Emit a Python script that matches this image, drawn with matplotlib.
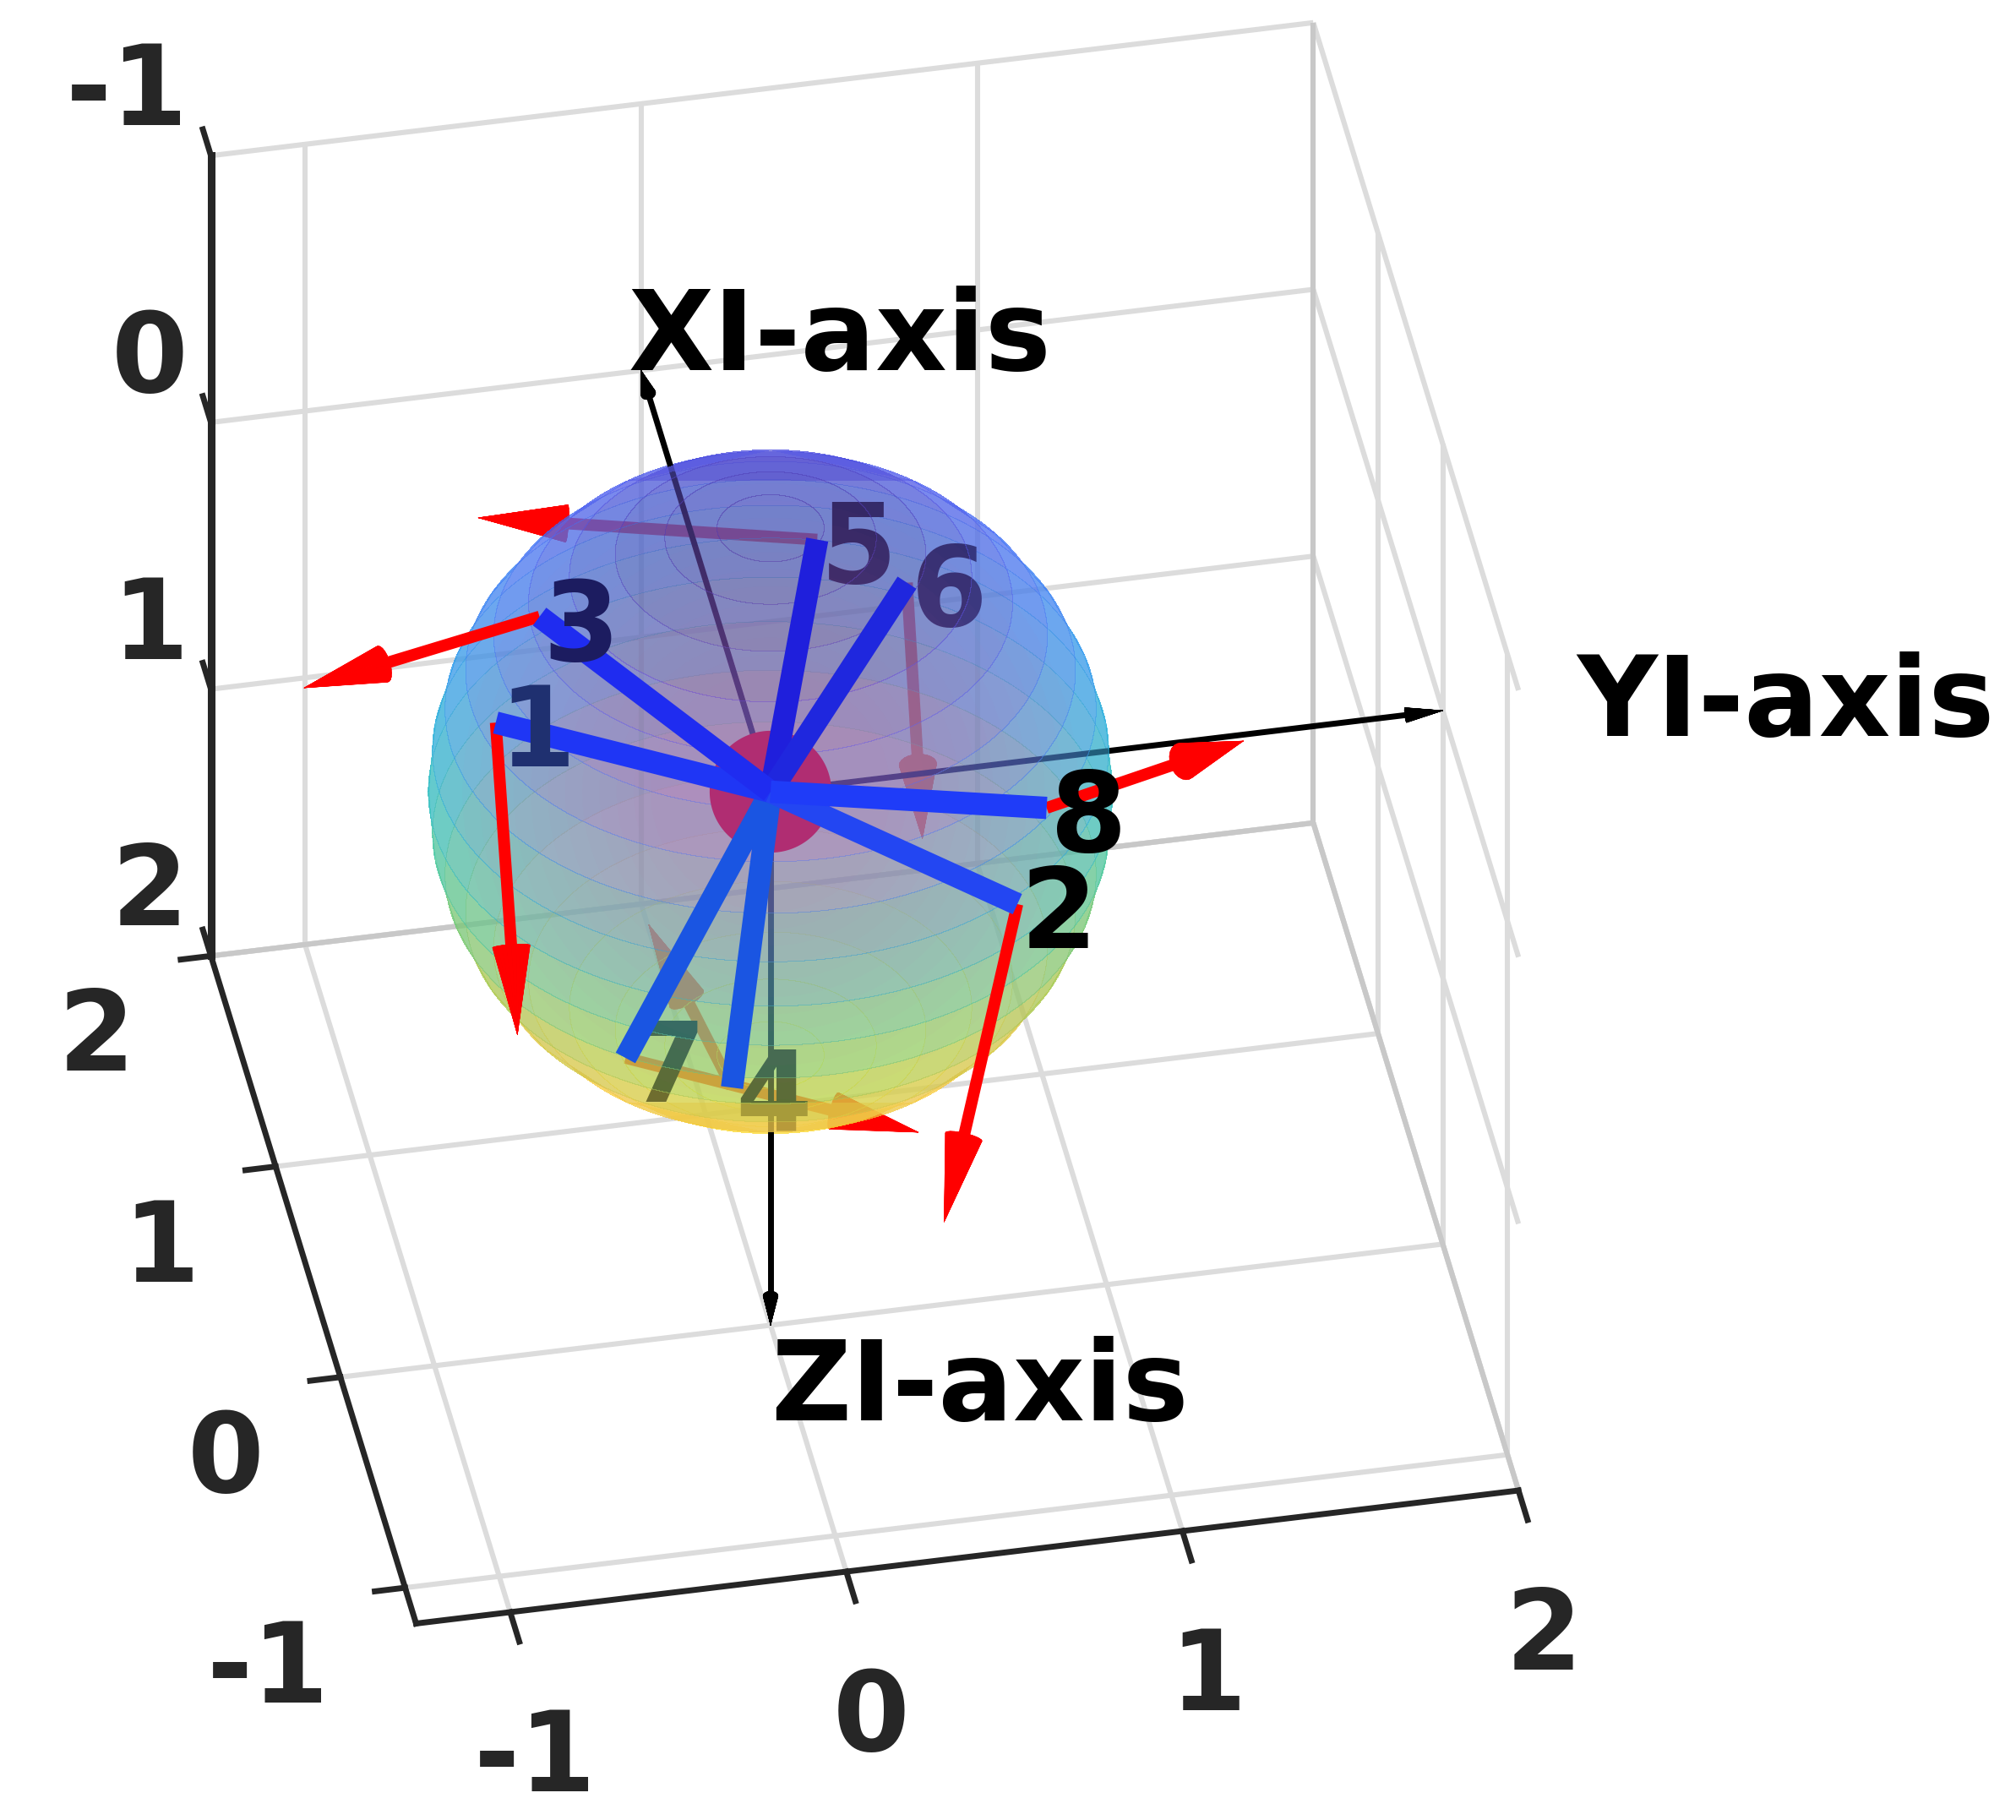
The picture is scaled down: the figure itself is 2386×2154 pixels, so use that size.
import numpy as np
import matplotlib
matplotlib.use("Agg")
import matplotlib.pyplot as plt
from matplotlib.colors import LinearSegmentedColormap
from mpl_toolkits.mplot3d import proj3d
from mpl_toolkits.mplot3d.art3d import Poly3DCollection

W, H = 2386, 2154
x_ticks = [-1, 0, 1, 2]
y_ticks = [-1, 0, 1, 2]
z_ticks = [-1, 0, 1, 2]
x_range = (2, -1.17)
y_range = (-1.28, 2)
z_range = (2, -1)

labels = ["1", "2", "3", "4", "5", "6", "7", "8"]
rod_x = [0.009, -0.651, 0.215, -0.36, 0.811, 0.723, -0.324, -0.449]
rod_y = [-0.816, 0.609, -0.646, -0.184, 0.295, 0.545, -0.494, 0.735]
rod_z = [-0.376, 0.0, -0.585, 0.797, -0.26, -0.13, 0.667, -0.182]
vec_x = [-0.652, -0.686, -0.228, 0.493, 0.303, -0.088, -0.143, -0.446]
vec_y = [-0.061, -0.35, -0.744, -0.153, -0.95, 0.029, 0.843, 0.499]
vec_z = [0.646, 0.596, -0.026, -0.245, 0.013, 0.894, 0.294, -0.527]
behind = [False, False, False, True, True, True, True, False]
label_over = [True, True, True, False, False, False, False, True]
label_col = ["#1f3070", "black", "#1c1c60", "black", "black", "black", "black", "black"]
rod_col = ["#1f36f5", "#2346f2", "#1f2cf0", "#1a55e2", "#1f1fdc", "#1f27de", "#1a55e2", "#1f3cf8"]

axis_names = ["XI-axis", "YI-axis", "ZI-axis"]
axis_tips = [(2, 0, 0), (0, 2, 0), (0, 0, 2)]
axis_text = [(2.2, 0, 0.04), (0, 2.4, 0.04), (0, 0, 2.24)]

parula = [(0.2422, 0.1504, 0.6603), (0.2810, 0.3228, 0.9579), (0.1786, 0.5289, 0.9682),
          (0.0689, 0.6948, 0.8394), (0.2161, 0.7843, 0.5923), (0.6720, 0.7793, 0.2227),
          (0.9970, 0.7659, 0.2199), (0.9769, 0.9839, 0.0805)]
sphere_radius = 1.0
hub_radius = 0.178
halo_radii = [0.9, 0.85, 0.8, 0.75, 0.7, 0.65, 0.6, 0.55, 0.5, 0.45, 0.4, 0.35]

ELEV, AZIM = 38.8, -10.9
INK = "#262626"
GRID = "#dcdcdc"
EDGE = "#c8c8c8"
plt.rcParams.update({"font.family": "DejaVu Sans", "font.weight": "bold"})

fig = plt.figure(figsize=(W / 100, H / 100), dpi=100, facecolor="white")
ax = fig.add_axes([-0.2, -0.2, 1.4, 1.4], projection="3d", computed_zorder=False,
                  proj_type="ortho", facecolor="none")
ax.view_init(elev=ELEV, azim=AZIM)
ax.set_axis_off()
cmap = LinearSegmentedColormap.from_list("parula", parula)

el, az = np.radians(ELEV), np.radians(AZIM)
# towards the viewer, in data coordinates (x and z run reversed)
toward = np.array([-np.cos(el) * np.cos(az), np.cos(el) * np.sin(az), -np.sin(el)])


def ring(r, th, ph):
    return np.column_stack((r * np.sin(th) * np.cos(ph), r * np.sin(th) * np.sin(ph),
                            np.full_like(ph, r * np.cos(th))))


def bands(r, side, n_lat=20):
    """One polygon per latitude band of the hemisphere facing side*toward."""
    th = np.linspace(0, np.pi, n_lat + 1)
    centre = np.arctan2(side * toward[1], side * toward[0])
    ph = np.linspace(centre - np.pi, centre + np.pi, 721)
    polys, cols = [], []
    for i in range(n_lat):
        a = ring(r, th[i], ph)
        b = ring(r, th[i + 1], ph)
        a = a[(a @ toward) * side > 0]
        b = b[(b @ toward) * side > 0]
        if len(a) + len(b) < 3:
            continue
        polys.append(np.vstack((a, b[::-1])))
        zmid = np.cos((th[i] + th[i + 1]) / 2)
        cols.append((*cmap((zmid + 1) / 2)[:3], 0.5))
    return polys, cols


def disc(r):
    t = np.linspace(0, 2 * np.pi, 181)
    a = np.cross(toward, [0.0, 0.0, 1.0])
    a /= np.linalg.norm(a)
    b = np.cross(toward, a)
    return [r * (np.outer(np.cos(t), a) + np.outer(np.sin(t), b))]


for side, zo in ((-1, 2), (1, 4)):
    polys, cols = bands(sphere_radius, side)
    ax.add_collection3d(Poly3DCollection(polys, facecolors=cols, linewidths=0,
                                         edgecolors="none", antialiased=False, zorder=zo),
                        autolim=False)
ax.add_collection3d(Poly3DCollection(disc(0.995), facecolors=[(0.85, 0.8, 0.85, 0.1)],
                                     linewidths=0, edgecolors="none", zorder=4.5), autolim=False)
for r in halo_radii:
    ax.add_collection3d(Poly3DCollection(disc(r), facecolors=[(0.85, 0.42, 0.7, 0.024)],
                                         linewidths=0, edgecolors="none", zorder=5), autolim=False)
ax.add_collection3d(Poly3DCollection(disc(hub_radius), facecolors="#b02d72", linewidths=0,
                                     edgecolors="none", zorder=6), autolim=False)


def arrow(start, vec, color, lw, head_len, head_rad, zo):
    start, vec = np.asarray(start, float), np.asarray(vec, float)
    L = np.linalg.norm(vec)
    u = vec / L
    tip = start + vec
    base = tip - u * head_len
    ax.plot(*zip(start, base), color=color, lw=lw, solid_capstyle="butt", zorder=zo)
    a = np.cross(u, [0.31, 0.57, 0.76])
    a /= np.linalg.norm(a)
    b = np.cross(u, a)
    t = np.linspace(0, 2 * np.pi, 25)
    rim = [base + head_rad * (np.cos(v) * a + np.sin(v) * b) for v in t]
    tris = []
    for p, q in zip(rim[:-1], rim[1:]):
        tris.append([tip, p, q])
        tris.append([base, p, q])
    ax.add_collection3d(Poly3DCollection(tris, facecolors=color, edgecolors=color, linewidths=0.3,
                                         zorder=zo), autolim=False)


for t in axis_tips:
    arrow((0, 0, 0), t, "black", 5, 0.11, 0.022, 3)

for i, name in enumerate(labels):
    tip = np.array((rod_x[i], rod_y[i], rod_z[i]))
    vec = np.array((vec_x[i], vec_y[i], vec_z[i]))
    arrow(tip, vec, "red", 10, 0.26, 0.055, 1 if behind[i] else 7)
    ax.plot(*zip((0, 0, 0), tip), color=rod_col[i], lw=19, solid_capstyle="butt",
            zorder=7.5 if behind[i] else 8)

# walls and floor grid, drawn from the tick values
x0, x1 = x_range
y0, y1 = y_range
zf, zt = z_range


def grid(xs, ys, zs, color=GRID, lw=4.4):
    ax.plot(xs, ys, zs, color=color, lw=lw, solid_capstyle="butt", zorder=0.2)


for v in x_ticks:
    grid([v, v], [y0, y1], [zf, zf])
    grid([v, v], [y1, y1], [zf, zt])
for v in y_ticks:
    grid([x0, x1], [v, v], [zf, zf])
    grid([x0, x0], [v, v], [zf, zt])
for v in z_ticks:
    grid([x0, x0], [y0, y1], [v, v])
    grid([x0, x1], [y1, y1], [v, v])
grid([x0, x0], [y0, y1], [zf, zf], EDGE)
grid([x0, x1], [y1, y1], [zf, zf], EDGE)
grid([x0, x0], [y1, y1], [zf, zt], EDGE)

# axis frame, drawn from the limits and tick values
ax.plot([x0, x1], [y0, y0], [zf, zf], color=INK, lw=5, zorder=0.5)
ax.plot([x1, x1], [y0, y1], [zf, zf], color=INK, lw=5, zorder=0.5)
ax.plot([x0, x0], [y0, y0], [zf, zt], color=INK, lw=6.5, zorder=0.5)
for v in x_ticks:
    ax.plot([v, v], [y0, y0 - 0.09], [zf, zf], color=INK, lw=5, zorder=0.5)
for v in y_ticks:
    ax.plot([x1, x1 - 0.14], [v, v], [zf, zf], color=INK, lw=5, zorder=0.5)
for v in z_ticks:
    ax.plot([x0, x0 + 0.125], [y0, y0], [v, v], color=INK, lw=5, zorder=0.5)

ax.set_xlim(*x_range, view_margin=0)
ax.set_ylim(*y_range, view_margin=0)
ax.set_zlim(*z_range, view_margin=0)
ax.set_xticks(x_ticks)
ax.set_yticks(y_ticks)
ax.set_zticks(z_ticks)
aspect = (abs(x1 - x0), abs(y1 - y0), abs(zt - zf))
ax.set_box_aspect(aspect)


def to_px(p):
    ax.apply_aspect()
    X, Y, _ = proj3d.proj_transform(p[0], p[1], p[2], ax.get_proj())
    return np.array(ax.transData.transform((X, Y)))


# fit the box onto the reference's pixel frame: origin and z scale
c0, c2 = to_px((0, 0, 0)), to_px((0, 0, 2))
ax.set_box_aspect(aspect, zoom=631.4 / abs(c0[1] - c2[1]))
c0 = to_px((0, 0, 0))
pos = ax.get_position(original=True)
ax.set_position([pos.x0 + (912 - c0[0]) / W, pos.y0 + ((H - 937) - c0[1]) / H, pos.width, pos.height])


def label_at(p, text, dx=0, dy=0, ha="left", va="center", size=94, color="black", zo=10):
    X, Y, _ = proj3d.proj_transform(p[0], p[1], p[2], ax.get_proj())
    ax.annotate(text, (X, Y), xytext=(dx, dy), textcoords="offset pixels", ha=ha, va=va,
                fontsize=size, color=color, fontweight="bold", annotation_clip=False, zorder=zo)


for i, name in enumerate(labels):
    label_at((rod_x[i], rod_y[i] + 0.01, rod_z[i] + 0.05), name, color=label_col[i],
             zo=9 if label_over[i] else 3)
for name, p in zip(axis_names, axis_text):
    label_at(p, name, size=94.5)
for v in x_ticks:
    label_at((v, y0, zf), str(v), -90, -136, "right", "baseline", color=INK, zo=11)
for v in y_ticks:
    label_at((x1, v, zf), str(v), 30, -212, "center", "baseline", color=INK, zo=11)
for v in z_ticks:
    label_at((x0, y0, v), str(v), -27, 36, "right", "baseline", color=INK, zo=11)

fig.savefig("out.png", dpi=100, facecolor="white")
